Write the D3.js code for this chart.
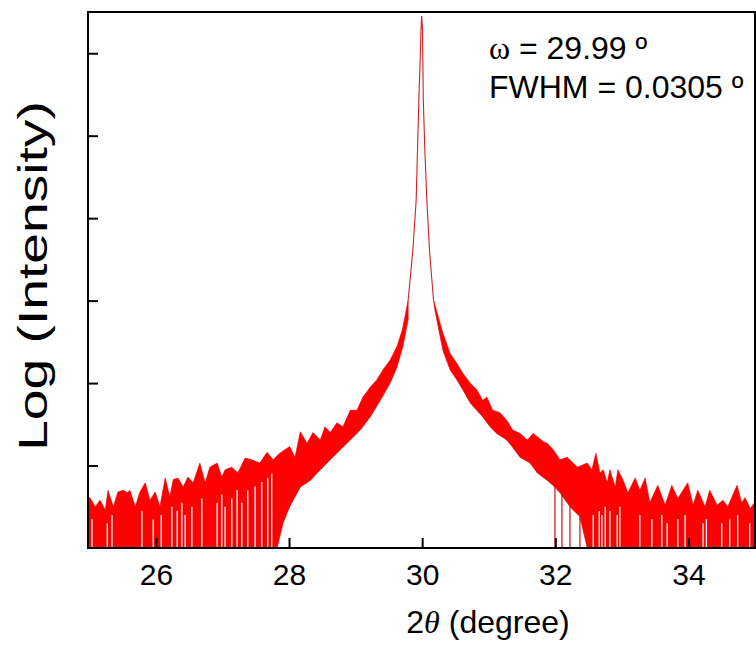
<!DOCTYPE html>
<html>
<head>
<meta charset="utf-8">
<script src="https://cdn.jsdelivr.net/npm/d3@7"></script>
<style>
  html, body { margin: 0; padding: 0; background: #fff; overflow: hidden; }
  svg { display: block; overflow: visible; font-family: "Liberation Sans", Arial, sans-serif; }
</style>
</head>
<body>
<div id="chart"></div>
<script>
// x ticks (2theta, degree)
var xTicks = [26, 28, 30, 32, 34];
// y ticks (log10 of intensity), no labels in the original
var yTicks = [1, 2, 3, 4, 5, 6];

// noisy band, left of the peak: upper / lower envelope  [2theta, log10(I)]
var upperLeft = [[24.98,0.61],[25.01,0.61],[25.09,0.50],[25.16,0.58],[25.24,0.46],[25.28,0.70],[25.36,0.50],
  [25.43,0.68],[25.51,0.70],[25.57,0.67],[25.61,0.70],[25.69,0.50],[25.76,0.68],[25.84,0.79],[25.91,0.58],
  [25.99,0.68],[26.06,0.50],[26.14,0.85],[26.21,0.62],[26.26,0.83],[26.33,0.85],[26.41,0.74],[26.48,0.86],
  [26.56,0.79],[26.66,1.03],[26.74,0.79],[26.81,0.98],[26.92,1.03],[26.99,0.86],[27.04,0.95],[27.14,0.98],
  [27.23,0.91],[27.34,1.09],[27.44,1.07],[27.56,1.03],[27.67,1.16],[27.76,1.07],[27.86,1.15],[28.01,1.23],
  [28.09,1.10],[28.17,1.41],[28.27,1.27],[28.36,1.40],[28.47,1.31],[28.54,1.47],[28.62,1.40],[28.72,1.52],
  [28.81,1.47],[28.92,1.67],[29.02,1.67],[29.11,1.83],[29.22,1.95],[29.32,2.04],[29.41,2.16],[29.52,2.28],
  [29.62,2.44],[29.70,2.64],[29.74,2.80],[29.79,3.01]];
var lowerLeft = [[24.98,0],[27.82,0],[27.91,0.30],[28.01,0.50],[28.17,0.74],[28.32,0.82],[28.47,0.95],
  [28.62,1.07],[28.77,1.19],[28.92,1.31],[29.07,1.43],[29.22,1.59],[29.37,1.79],[29.52,2.00],[29.62,2.19],
  [29.71,2.44],[29.79,2.77]];

// the sharp peak itself
var peakProfile = [[29.79,3.01],[29.86,3.61],[29.91,4.22],[29.95,5.43],[29.97,5.92],[29.982,6.28],
  [29.993,6.45],[30.005,6.28],[30.017,5.43],[30.04,4.83],[30.07,4.22],[30.11,3.61],[30.17,3.01]];

// noisy band, right of the peak
var upperRight = [[30.17,3.01],[30.31,2.61],[30.42,2.36],[30.52,2.24],[30.61,2.12],[30.72,2.00],[30.82,1.92],
  [30.91,1.79],[30.97,1.83],[31.06,1.67],[31.17,1.64],[31.27,1.55],[31.36,1.43],[31.47,1.39],[31.58,1.31],
  [31.67,1.39],[31.82,1.29],[31.88,1.27],[31.97,1.19],[32.07,1.07],[32.18,1.10],[32.27,1.03],[32.33,0.98],
  [32.48,1.03],[32.55,0.95],[32.61,1.15],[32.67,0.91],[32.72,0.95],[32.78,0.79],[32.82,0.95],[32.90,0.74],
  [32.94,0.95],[33.02,0.82],[33.09,0.67],[33.20,0.85],[33.27,0.70],[33.35,0.85],[33.42,0.55],[33.54,0.76],
  [33.65,0.52],[33.75,0.76],[33.84,0.60],[33.99,0.79],[34.07,0.52],[34.14,0.70],[34.25,0.50],[34.32,0.70],
  [34.43,0.52],[34.52,0.58],[34.59,0.50],[34.73,0.76],[34.80,0.55],[34.85,0.61],[34.93,0.48],[35.00,0.56]];
var lowerRight = [[30.17,3.01],[30.19,2.89],[30.31,2.40],[30.42,2.16],[30.52,2.04],[30.61,1.92],[30.72,1.76],
  [30.82,1.67],[30.91,1.59],[31.02,1.47],[31.12,1.39],[31.27,1.31],[31.36,1.22],[31.47,1.10],[31.62,1.03],
  [31.73,0.91],[31.88,0.82],[31.98,0.75],[32.07,0.67],[32.22,0.50],[32.37,0.38],[32.48,0],[35.00,0]];

// points where the counts fall to the baseline: [2theta, level the dip starts from]
var dropsInBand = [[25.04,0.35],[25.27,0.30],[25.34,0.40],[25.79,0.45],[25.96,0.35],[26.08,0.40],[26.24,0.50],
  [26.32,0.45],[26.39,0.55],[26.44,0.40],[26.54,0.50],[26.69,0.60],[26.92,0.55],[26.99,0.65],[27.04,0.50],
  [27.14,0.60],[27.22,0.70],[27.29,0.55],[27.38,0.70],[27.49,0.75],[27.59,0.80],[27.68,0.85],[27.74,0.90],
  [32.57,0.40],[32.66,0.45],[32.70,0.40],[32.75,0.50],[32.82,0.45],[32.93,0.40],[32.97,0.50],[33.27,0.40],
  [33.45,0.35],[33.60,0.40],[33.68,0.30],[33.84,0.35],[33.95,0.40],[34.22,0.30],[34.27,0.35],[34.50,0.30],
  [34.62,0.35],[34.74,0.40],[34.92,0.30]];
var dropsBelowBand = [[31.995,0.78],[32.10,0.65],[32.22,0.50],[32.37,0.38]];

var width = 756, height = 646;
var margin = { left: 88, top: 12, right: 1, bottom: 98 };
var innerWidth = width - margin.left - margin.right;
var innerHeight = height - margin.top - margin.bottom;

var svg = d3.select("#chart").append("svg")
  .attr("width", width)
  .attr("height", height);

var g = svg.append("g")
  .attr("transform", "translate(" + margin.left + "," + margin.top + ")");

var x = d3.scaleLinear().domain([24.98, 35]).range([0, innerWidth]);
var y = d3.scaleLinear().domain([0, 6.5]).range([innerHeight, 0]);

g.append("clipPath").attr("id", "clip")
  .append("rect").attr("width", innerWidth).attr("height", innerHeight);

var line = d3.line().x(d => x(d[0])).y(d => y(d[1]));
var plot = g.append("g").attr("clip-path", "url(#clip)");

// bands: upper envelope then the lower one walked back
[[upperLeft, lowerLeft], [upperRight, lowerRight]].forEach(function(b) {
  plot.append("path")
    .attr("d", line(b[0].concat(b[1].slice().reverse())) + "Z")
    .attr("fill", "#ff0000")
    .attr("stroke", "#e00000")
    .attr("stroke-width", 0.6)
    .attr("stroke-linejoin", "miter");
});

// dips to zero inside the band show up as white slits
plot.selectAll(".gap").data(dropsInBand).join("line")
  .attr("class", "gap")
  .attr("x1", d => x(d[0])).attr("x2", d => x(d[0]))
  .attr("y1", y(0)).attr("y2", d => y(d[1]))
  .attr("stroke", "#fff")
  .attr("stroke-width", 1.3);

// dips below the band show up as red lines
plot.selectAll(".drop").data(dropsBelowBand).join("line")
  .attr("class", "drop")
  .attr("x1", d => x(d[0])).attr("x2", d => x(d[0]))
  .attr("y1", y(0)).attr("y2", d => y(d[1]))
  .attr("stroke", "#d01010")
  .attr("stroke-width", 1.2);

plot.append("path")
  .datum(peakProfile)
  .attr("d", line)
  .attr("fill", "none")
  .attr("stroke", "#d42020")
  .attr("stroke-width", 1.1);

// axes: ticks point inwards
var xAxis = d3.axisBottom(x).tickValues(xTicks).tickSize(-10).tickPadding(16).tickFormat(d3.format("d"));
var xAxisG = g.append("g")
  .attr("transform", "translate(0," + innerHeight + ")")
  .call(xAxis);
xAxisG.select(".domain").remove();
xAxisG.selectAll("line").attr("stroke", "#000").attr("stroke-width", 2);
xAxisG.selectAll("text")
  .attr("font-size", 30)
  .attr("font-family", "Liberation Sans, Arial, sans-serif")
  .attr("fill", "#000");

var yAxis = d3.axisLeft(y).tickValues(yTicks).tickSize(-10).tickFormat("");
var yAxisG = g.append("g").call(yAxis);
yAxisG.select(".domain").remove();
yAxisG.selectAll("line").attr("stroke", "#000").attr("stroke-width", 2);

// frame
g.append("rect")
  .attr("width", innerWidth)
  .attr("height", innerHeight)
  .attr("fill", "none")
  .attr("stroke", "#000")
  .attr("stroke-width", 2);

// axis titles
var xTitle = svg.append("text")
  .attr("x", 488)
  .attr("y", 633)
  .attr("text-anchor", "middle")
  .attr("font-size", 32)
  .attr("fill", "#000");
xTitle.append("tspan").text("2");
xTitle.append("tspan").attr("font-family", "Liberation Serif, serif").attr("font-style", "italic").text("θ");
xTitle.append("tspan").text(" (degree)");

// the original's y title is stretched along its length
svg.append("text")
  .attr("transform", "translate(47," + (margin.top + innerHeight / 2 - 4) + ") rotate(-90) scale(1.38,1)")
  .attr("text-anchor", "middle")
  .attr("font-size", 40)
  .attr("fill", "#000")
  .text("Log (Intensity)");

// annotation
var ann = svg.append("text")
  .attr("x", 489)
  .attr("y", 59)
  .attr("font-size", 32)
  .attr("fill", "#000");
ann.append("tspan").attr("font-family", "Liberation Serif, serif").text("ω");
ann.append("tspan").text(" = 29.99 º");

svg.append("text")
  .attr("x", 489)
  .attr("y", 98)
  .attr("font-size", 32)
  .attr("fill", "#000")
  .text("FWHM = 0.0305 º");
</script>
</body>
</html>
